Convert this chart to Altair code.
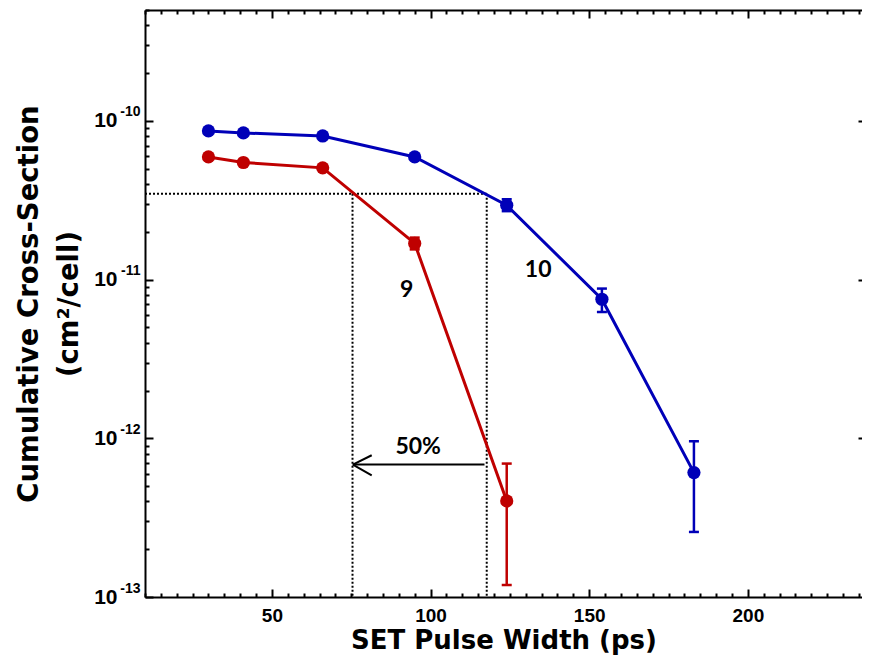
import altair as alt
import pandas as pd

# ---------------- data ----------------
blue_x = [30, 41, 66, 95, 124, 154, 183]
blue_y = [8.65e-11, 8.40e-11, 8.04e-11, 5.93e-11, 2.94e-11, 7.52e-12, 6.08e-13]
red_x = [30, 41, 66, 95, 124]
red_y = [5.93e-11, 5.47e-11, 5.06e-11, 1.69e-11, 4.03e-13]

blue_err_x = [124, 154, 183]
blue_err_lo = [2.70e-11, 6.25e-12, 2.57e-13]
blue_err_hi = [3.21e-11, 8.78e-12, 9.58e-13]
red_err_x = [95, 124]
red_err_lo = [1.55e-11, 1.19e-13]
red_err_hi = [1.84e-11, 6.93e-13]

label_text = ["9", "10", "50%"]
label_x = [92.5, 133.9, 96.1]
label_y = [8.6e-12, 1.146e-11, 8.82e-13]

dotted_x = [10, 75.4, 117.7]
dotted_x2 = [117.7, 75.4, 117.7]
dotted_y = [3.48e-11, 3.48e-11, 3.48e-11]
dotted_y2 = [3.48e-11, 1e-13, 1e-13]

arrow_x = [117.0, 75.5, 75.5]
arrow_x2 = [75.5, 81.45, 81.45]
arrow_y = [6.83e-13, 6.83e-13, 6.83e-13]
arrow_y2 = [6.83e-13, 7.82e-13, 5.85e-13]

x_domain = [10, 235.97]
y_domain = [1e-13, 5e-10]
x_tick_values = list(range(10, 236, 5))
y_tick_values = [float(f"{m}e{e}") for e in range(-13, -9) for m in range(1, 10)
                 if float(f"{m}e{e}") <= 5e-10]
y_major_values = [1e-13, 1e-12, 1e-11, 1e-10]
y_right_ticks = [1e-12, 1e-11, 1e-10]

# ---------------- tables ----------------
blue = pd.DataFrame({"x": blue_x, "y": blue_y})
red = pd.DataFrame({"x": red_x, "y": red_y})
blue_err = pd.DataFrame({"x": blue_err_x, "lo": blue_err_lo, "hi": blue_err_hi})
red_err = pd.DataFrame({"x": red_err_x, "lo": red_err_lo, "hi": red_err_hi})
labels = pd.DataFrame({"t": label_text, "x": label_x, "y": label_y})
dotted = pd.DataFrame({"x": dotted_x, "x2": dotted_x2, "y": dotted_y, "y2": dotted_y2})
arrow = pd.DataFrame({"x": arrow_x, "x2": arrow_x2, "y": arrow_y, "y2": arrow_y2})

BLUE = "#0000B8"
RED = "#BF0000"
FONT = "Liberation Sans"
TFONT = "DejaVu Sans"

xs = alt.Scale(type="linear", domain=x_domain, nice=False, zero=False)
ys = alt.Scale(type="log", domain=y_domain, nice=False)

x_major = "datum.value % 50 == 0"
lg = "(log(datum.value)/LN10)"
y_major = f"abs({lg} - round({lg})) < 0.001"

axis_bottom = alt.Axis(
    orient="bottom", values=x_tick_values,
    labelExpr=f"{x_major} ? datum.label : ''",
    tickSize={"expr": f"{x_major} ? -8 : -4"}, tickWidth=2, tickColor="black",
    domainWidth=2, domainColor="black",
    labelFont=FONT, labelFontSize=19, labelFontWeight="bold", labelColor="black",
    labelPadding=17, labelOverlap=False, labelFlush=False,
    title="SET Pulse Width (ps)", titleFont=TFONT, titleFontSize=26,
    titleFontWeight="bold", titleColor="black", titleBaseline="alphabetic",
    titleY=51, grid=False,
)
axis_left = alt.Axis(
    orient="left", values=y_tick_values,
    labelExpr=f"{y_major} ? '10' : ''",
    tickSize={"expr": f"{y_major} ? -8 : -4"}, tickWidth=2, tickColor="black",
    domainWidth=2, domainColor="black",
    labelFont=FONT, labelFontSize=21, labelFontWeight="bold", labelColor="black",
    labelPadding=36, labelOverlap=False, labelFlush=False,
    title=["Cumulative Cross-Section", "(cm²/cell)"], titleFont=TFONT, titleFontSize=27.5,
    titleFontWeight="bold", titleColor="black", titlePadding=10, titleLineHeight=40,
    grid=False,
)
axis_exp = alt.Axis(
    orient="left", values=y_major_values,
    labelExpr=f"'' + round({lg})",
    ticks=False, domain=False, grid=False, title=None,
    labelFont=FONT, labelFontSize=14, labelFontWeight="bold", labelColor="black",
    labelPadding=5, labelOffset=-9, labelOverlap=False, labelFlush=False,
)
axis_top = alt.Axis(
    orient="top", values=x_tick_values, labels=False, title=None,
    tickSize={"expr": f"{x_major} ? -8 : -4"}, tickWidth=2, tickColor="black",
    domainWidth=2, domainColor="black", grid=False,
)
axis_right = alt.Axis(
    orient="right", values=y_right_ticks, labels=False, title=None,
    tickSize={"expr": "-4"}, tickWidth=2, tickColor="black",
    domain=False, grid=False,
)


def X(f, axis=None):
    return alt.X(f, type="quantitative", scale=xs, axis=axis)


def Y(f, axis=None):
    return alt.Y(f, type="quantitative", scale=ys, axis=axis)


dotted_layer = alt.Chart(dotted).mark_rule(
    color="black", strokeWidth=2, strokeDash=[2, 2]
).encode(x=X("x", axis_bottom), x2="x2", y=Y("y", axis_left), y2="y2")

arrow_layer = alt.Chart(arrow).mark_rule(color="black", strokeWidth=2).encode(
    x=X("x"), x2="x2", y=Y("y"), y2="y2")

blue_line = alt.Chart(blue).mark_line(color=BLUE, strokeWidth=3).encode(x=X("x"), y=Y("y"))
red_line = alt.Chart(red).mark_line(color=RED, strokeWidth=3).encode(x=X("x"), y=Y("y"))
blue_pts = alt.Chart(blue).mark_circle(color=BLUE, size=175, opacity=1).encode(x=X("x"), y=Y("y"))
red_pts = alt.Chart(red).mark_circle(color=RED, size=175, opacity=1).encode(x=X("x"), y=Y("y"))


def err_layers(df, color):
    bar = alt.Chart(df).mark_rule(color=color, strokeWidth=2.5).encode(
        x=X("x"), y=Y("lo"), y2="hi")
    cap_lo = alt.Chart(df).mark_tick(color=color, orient="horizontal", size=10,
                                     thickness=2.5, opacity=1).encode(x=X("x"), y=Y("lo"))
    cap_hi = alt.Chart(df).mark_tick(color=color, orient="horizontal", size=10,
                                     thickness=2.5, opacity=1).encode(x=X("x"), y=Y("hi"))
    return [bar, cap_lo, cap_hi]


text_layer = alt.Chart(labels).mark_text(
    font="Lato", fontSize=23, fontWeight="bold", color="black", baseline="middle", align="center"
).encode(x=X("x"), y=Y("y"), text="t")

frame_layer = alt.Chart(blue).mark_point(opacity=0).encode(
    x=X("x", axis_top), y=Y("y", axis_right))

exp_layer = alt.Chart(blue).mark_point(opacity=0).encode(
    x=X("x"), y=Y("y", axis_exp))

chart = alt.layer(
    dotted_layer, arrow_layer, blue_line, red_line,
    *err_layers(blue_err, BLUE), *err_layers(red_err, RED),
    blue_pts, red_pts, text_layer, frame_layer, exp_layer,
).resolve_axis(x="independent", y="independent").properties(
    width=717, height=587,
    autosize=alt.AutoSizeParams(type="none"),
    padding={"left": 137, "top": 2, "right": 0, "bottom": 59},
).configure_view(strokeWidth=0)

chart.save("out.html", embed_options={"renderer": "svg", "actions": False})
